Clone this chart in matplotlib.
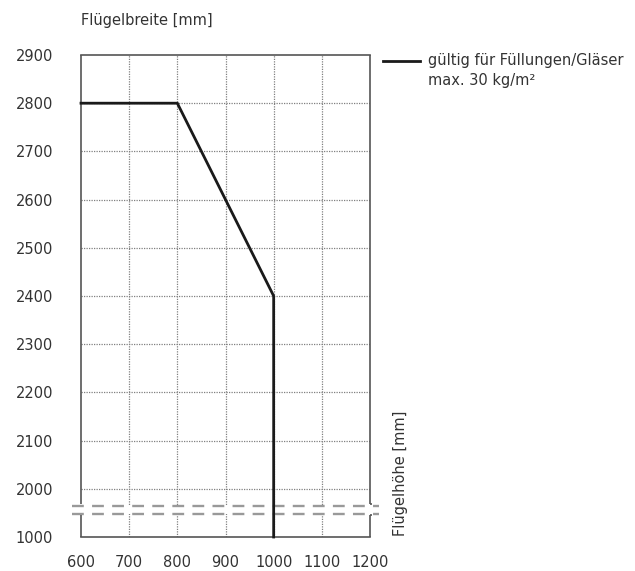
import matplotlib
matplotlib.use("Agg")
import matplotlib.pyplot as plt
from matplotlib.lines import Line2D

plt.rcParams['font.family'] = ['DejaVu Sans']

# ---- data ----
x_values = [600, 800, 1000, 1000]
y_values = [2800, 2800, 2400, 1000]
x_ticks = [600, 700, 800, 900, 1000, 1100, 1200]
y_ticks = [1000, 2000, 2100, 2200, 2300, 2400, 2500, 2600, 2700, 2800, 2900]
y_label = "Flügelbreite [mm]"
x_label = "Flügelhöhe [mm]"
legend_line1 = "gültig für Füllungen/Gläser"
legend_line2 = "max. 30 kg/m²"

# broken axis: values below 2000 are compressed into one grid step
def fy(v):
    return v if v >= 2000 else 1900 + (v - 1000) / 10.0

TXT = "#333333"
FS = 10.5
W, H = 635, 571
fig = plt.figure(figsize=(W / 100, H / 100), dpi=100)
ax = fig.add_axes([81 / W, 1 - 537 / H, (370 - 81) / W, (537 - 55) / H])

ax.set_xlim(600, 1200)
ax.set_ylim(1900, 2900)

ax.set_xticks(x_ticks)
ax.set_xticklabels([str(t) for t in x_ticks])
ax.set_yticks([fy(t) for t in y_ticks])
ax.set_yticklabels([str(t) for t in y_ticks])
ax.tick_params(length=0, labelsize=FS, colors=TXT)
ax.tick_params(axis='y', pad=20)
ax.tick_params(axis='x', pad=13)

# grid
for xt in x_ticks[1:-1]:
    ax.axvline(xt, color="#808080", lw=0.9, ls=(0, (1, 1)), zorder=1)
for yt in y_ticks[1:-1]:
    ax.axhline(fy(yt), color="#808080", lw=0.9, ls=(0, (1, 1)), zorder=1)

# spines
for s in ['left', 'right']:
    ax.spines[s].set_visible(False)
for s in ['top', 'bottom']:
    ax.spines[s].set_color("#555555")
    ax.spines[s].set_linewidth(1.2)

brk_hi, brk_lo = 1965, 1948
sp = dict(color="#555555", lw=1.2, clip_on=False, zorder=5, solid_capstyle='butt')
ax.plot([600, 600], [2900, brk_hi + 3], **sp)
ax.plot([600, 600], [brk_lo - 3, 1900], **sp)
ax.plot([1200, 1200], [2900, brk_hi + 3], **sp)
ax.plot([1200, 1200], [brk_lo - 3, 1900], **sp)
ax.plot([1200, 1205], [brk_hi + 3, brk_hi + 3], **sp)
ax.plot([1200, 1205], [brk_lo - 3, brk_lo - 3], **sp)

# white band + dashed break lines
ax.fill_between([581, 1218], brk_lo, brk_hi, color="white", zorder=3, clip_on=False, lw=0)
for yb in (brk_hi, brk_lo):
    ax.plot([581, 1218], [yb, yb], color="#999999", lw=1.7, ls=(0, (5, 3.5)),
            clip_on=False, zorder=4)

# main line
ax.plot(x_values, [fy(v) for v in y_values], color="#1a1a1a", lw=2.0,
        zorder=6, solid_joinstyle='miter', clip_on=False)

# labels
fig.text(81 / W, 1 - 20 / H, y_label, fontsize=FS, color=TXT, va='center', ha='left')
fig.text(400 / W, 1 - 536 / H, x_label, fontsize=FS, color=TXT, va='bottom',
         ha='center', rotation=90)

# legend (manual)
fig.add_artist(Line2D([383 / W, 420 / W], [1 - 61 / H, 1 - 61 / H], color="#1a1a1a", lw=2.0))
fig.text(428 / W, 1 - 61 / H, legend_line1, fontsize=FS, color=TXT,
         va='center', ha='left')
fig.text(428 / W, 1 - 81 / H, legend_line2, fontsize=FS, color=TXT,
         va='center', ha='left')

fig.savefig("out.png", dpi=100)
